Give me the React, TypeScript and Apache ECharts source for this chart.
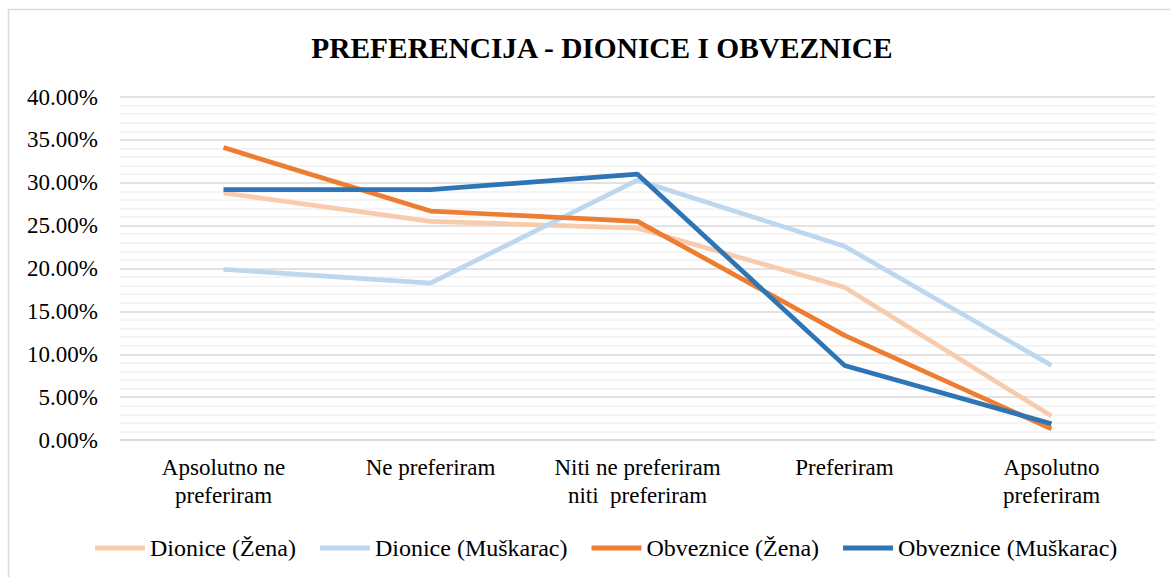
import React, { useEffect, useRef } from "react";
import * as echarts from "echarts";

const categories = [
  "Apsolutno ne\npreferiram",
  "Ne preferiram",
  "Niti ne preferiram\nniti  preferiram",
  "Preferiram",
  "Apsolutno\npreferiram",
];
const dioniceZena = [28.8, 25.5, 24.7, 17.8, 2.8];
const dioniceMuskarac = [19.9, 18.3, 30.3, 22.6, 8.7];
const obvezniceZena = [34.1, 26.7, 25.5, 12.2, 1.3];
const obvezniceMuskarac = [29.2, 29.2, 31.0, 8.7, 1.9];

const seriesNames = [
  "Dionice (Žena)",
  "Dionice (Muškarac)",
  "Obveznice (Žena)",
  "Obveznice (Muškarac)",
];
const seriesColors = ["#F8CBAD", "#BDD7EE", "#ED7D31", "#2E75B6"];
const seriesData = [dioniceZena, dioniceMuskarac, obvezniceZena, obvezniceMuskarac];

const FONT = '"Liberation Serif", "Times New Roman", serif';

export default function App() {
  const ref = useRef<HTMLDivElement>(null);
  useEffect(() => {
    if (!ref.current) return;
    const chart = echarts.init(ref.current, undefined, { renderer: "svg" });
    chart.setOption({
      animation: false,
      backgroundColor: "#ffffff",
      textStyle: { fontFamily: FONT },
      graphic: [
        {
          type: "rect",
          shape: { x: 8.5, y: 9.5, width: 1200, height: 600 },
          style: { fill: "none", stroke: "#d9d9d9", lineWidth: 1.5 },
          silent: true,
        },
      ],
      title: {
        text: "PREFERENCIJA - DIONICE I OBVEZNICE",
        left: 597,
        textAlign: "center",
        top: 28,
        textStyle: {
          fontFamily: FONT,
          fontWeight: "bold",
          fontSize: 29.4,
          color: "#000000",
        },
      },
      legend: {
        bottom: 12,
        left: 90,
        itemWidth: 50,
        itemHeight: 5,
        itemGap: 24,
        icon: "rect",
        textStyle: { fontFamily: FONT, fontSize: 24, color: "#000000" },
        data: seriesNames,
      },
      grid: { left: 120, right: 15, top: 97, bottom: 137 },
      xAxis: {
        type: "category",
        data: categories,
        boundaryGap: true,
        axisLine: { show: true, lineStyle: { color: "#d9d9d9", width: 1.5 } },
        axisTick: { show: false },
        axisLabel: {
          fontFamily: FONT,
          fontSize: 23,
          color: "#000000",
          lineHeight: 28,
          margin: 13,
          interval: 0,
        },
      },
      yAxis: {
        type: "value",
        min: 0,
        max: 40,
        interval: 5,
        axisLine: { show: false },
        axisTick: { show: false },
        axisLabel: {
          fontFamily: FONT,
          fontSize: 23,
          color: "#000000",
          margin: 22,
          formatter: (v: number) => v.toFixed(2) + "%",
        },
        splitLine: { show: true, lineStyle: { color: "#d9d9d9", width: 1.5 } },
        minorTick: { show: false, splitNumber: 5 },
        minorSplitLine: { show: true, lineStyle: { color: "#f0f0f0", width: 1.5 } },
      },
      series: seriesNames.map((name, i) => ({
        name,
        type: "line",
        data: seriesData[i],
        showSymbol: false,
        symbol: "none",
        lineStyle: { color: seriesColors[i], width: 4.7 },
        itemStyle: { color: seriesColors[i] },
      })),
    });
    return () => chart.dispose();
  }, []);
  return (
    <div
      ref={ref}
      style={{ position: "absolute", left: 0, top: 0, width: 1170, height: 577 }}
    />
  );
}
